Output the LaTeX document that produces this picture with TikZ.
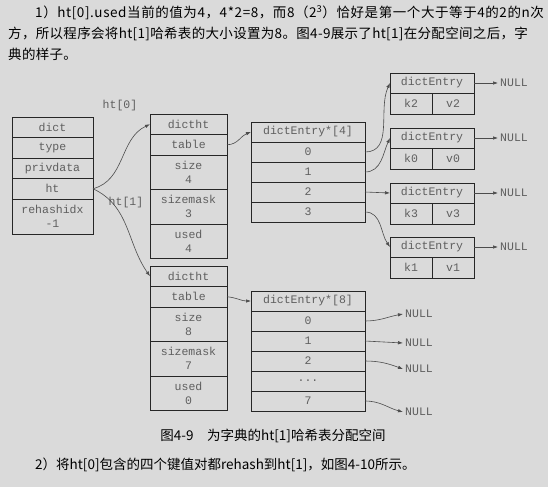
\documentclass[tikz,border=0pt]{standalone}
\usepackage{fontspec}
\setmonofont{Liberation Mono}
\newfontfamily\cjk{Noto Sans CJK SC}
\usetikzlibrary{arrows.meta, positioning}
\definecolor{bggray}{RGB}{218,218,218}
\definecolor{inkgray}{RGB}{95,95,95}
\tikzset{
  cell/.style={rectangle, draw=black!85, line width=1pt, outer sep=0pt, inner sep=0pt, align=center, text=inkgray, font=\fontsize{11.5}{14}\ttfamily},
  dictcell/.style={cell, minimum width=81pt, minimum height=20.5pt},
  htcell/.style={cell, minimum width=77pt, minimum height=20.5pt},
  tabcell/.style={cell, minimum width=114pt, minimum height=20pt},
  entrycell/.style={cell, minimum width=84pt, minimum height=20pt},
  kvcell/.style={cell, minimum width=42pt, minimum height=21pt},
  arrow/.style={line width=0.6pt, draw=black!70, -{Latex[length=5pt, width=3.5pt]}},
  nulltext/.style={text=inkgray, font=\fontsize{11.5}{14}\ttfamily, inner sep=2pt, anchor=west},
  ptrlabel/.style={text=inkgray, font=\fontsize{11.5}{14}\ttfamily, inner sep=1pt},
  para/.style={anchor=west, inner sep=0pt, font=\fontsize{13.5}{14}\cjk}
}

\begin{document}
\begin{tikzpicture}[x=1pt, y=-1pt]

  \fill[bggray] (0,0) rectangle (548,487);
  \useasboundingbox (0,0) rectangle (548,487);

  % text above and below the figure
  \node (line1) [para] at (35,13) {\addfontfeature{LetterSpace=4.3}1）ht[0].used当前的值为4，4*2=8，而8（2\textsuperscript{3}）恰好是第一个大于等于4的2的n次};
  \node (line2) [para] at (8,34) {\addfontfeature{LetterSpace=2.4}方，所以程序会将ht[1]哈希表的大小设置为8。图4-9展示了ht[1]在分配空间之后，字};
  \node (line3) [para] at (8,54) {\addfontfeature{LetterSpace=2.4}典的样子。};
  \node (caption) [para, anchor=center] at (273,436) {图4-9\quad 为字典的ht[1]哈希表分配空间};
  \node (line4) [para] at (35,465) {2）将ht[0]包含的四个键值对都rehash到ht[1]，如图4-10所示。};

  % dict
  \node (dict) [dictcell, anchor=north west] at (12,117) {dict};
  \node (type) [dictcell, below=0pt of dict] {type};
  \node (privdata) [dictcell, below=0pt of type] {privdata};
  \node (ht) [dictcell, below=0pt of privdata] {ht};
  \node (rehash) [dictcell, below=0pt of ht, minimum height=35pt] {rehashidx\\-1};

  % ht[0]
  \node (dictht0) [htcell, anchor=north west] at (150,114) {dictht};
  \node (table0) [htcell, below=0pt of dictht0] {table};
  \node (size0) [htcell, below=0pt of table0, minimum height=34.5pt] {size\\4};
  \node (mask0) [htcell, below=0pt of size0, minimum height=34.5pt] {sizemask\\3};
  \node (used0) [htcell, below=0pt of mask0, minimum height=34.5pt] {used\\4};

  % ht[1]
  \node (dictht1) [htcell, anchor=north west] at (150,266) {dictht};
  \node (table1) [htcell, below=0pt of dictht1] {table};
  \node (size1) [htcell, below=0pt of table1, minimum height=34.5pt] {size\\8};
  \node (mask1) [htcell, below=0pt of size1, minimum height=34.5pt] {sizemask\\7};
  \node (used1) [htcell, below=0pt of mask1, minimum height=34.5pt] {used\\0};

  % dictEntry*[4]
  \node (tab4) [tabcell, anchor=north west] at (251,122) {dictEntry*[4]};
  \node (t40) [tabcell, below=0pt of tab4] {0};
  \node (t41) [tabcell, below=0pt of t40] {1};
  \node (t42) [tabcell, below=0pt of t41] {2};
  \node (t43) [tabcell, below=0pt of t42] {3};

  % dictEntry*[8]
  \node (tab8) [tabcell, anchor=north west] at (251,291) {dictEntry*[8]};
  \node (t80) [tabcell, below=0pt of tab8] {0};
  \node (t81) [tabcell, below=0pt of t80] {1};
  \node (t82) [tabcell, below=0pt of t81] {2};
  \node (t8dots) [tabcell, below=0pt of t82] {...};
  \node (t87) [tabcell, below=0pt of t8dots] {7};

  % entries
  \node (e2) [entrycell, anchor=north west] at (390,73) {dictEntry};
  \node (k2) [kvcell, anchor=north west] at (e2.south west) {k2};
  \node (v2) [kvcell, right=0pt of k2] {v2};
  \node (e0) [entrycell, anchor=north west] at (390,128) {dictEntry};
  \node (k0) [kvcell, anchor=north west] at (e0.south west) {k0};
  \node (v0) [kvcell, right=0pt of k0] {v0};
  \node (e3) [entrycell, anchor=north west] at (390,183) {dictEntry};
  \node (k3) [kvcell, anchor=north west] at (e3.south west) {k3};
  \node (v3) [kvcell, right=0pt of k3] {v3};
  \node (e1) [entrycell, anchor=north west] at (390,237) {dictEntry};
  \node (k1) [kvcell, anchor=north west] at (e1.south west) {k1};
  \node (v1) [kvcell, right=0pt of k1] {v1};

  % NULL ends
  \node (n2) [nulltext, right=24pt of e2.east, anchor=west] {NULL};
  \node (n0) [nulltext, right=24pt of e0.east, anchor=west] {NULL};
  \node (n3) [nulltext, right=24pt of e3.east, anchor=west] {NULL};
  \node (n1) [nulltext, right=24pt of e1.east, anchor=west] {NULL};
  \node (n80) [nulltext] at (403,314) {NULL};
  \node (n81) [nulltext] at (403,343) {NULL};
  \node (n82) [nulltext] at (403,369) {NULL};
  \node (n87) [nulltext] at (403,412) {NULL};

  % pointers
  \node (lab0) [ptrlabel] at (120,106) {ht[0]};
  \node (lab1) [ptrlabel] at (126,203) {ht[1]};
  \draw [arrow] (ht.east) to[out=15, in=205] (dictht0.west);
  \draw [arrow] (ht.east) to[out=-25, in=125] (dictht1.west);
  \draw [arrow] (table0.east) to[out=0, in=200] (tab4.west);
  \draw [arrow] (table1.east) to[out=-5, in=180] (tab8.west);

  \draw [arrow] (t40.east) to[out=0, in=245] (e2.west);
  \draw [arrow] (t41.east) to[out=0, in=245] (e0.west);
  \draw [arrow] (t42.east) -- (e3.west);
  \draw [arrow] (t43.east) to[out=0, in=125] (e1.west);

  \draw [arrow] (e2.east) -- (n2.west);
  \draw [arrow] (e0.east) -- (n0.west);
  \draw [arrow] (e3.east) -- (n3.west);
  \draw [arrow] (e1.east) -- (n1.west);

  \draw [arrow] (t80.east) to[out=0, in=190] (n80.west);
  \draw [arrow] (t81.east) -- (n81.west);
  \draw [arrow] (t82.east) to[out=0, in=160] (n82.west);
  \draw [arrow] (t87.east) to[out=0, in=165] (n87.west);

\end{tikzpicture}
\end{document}
